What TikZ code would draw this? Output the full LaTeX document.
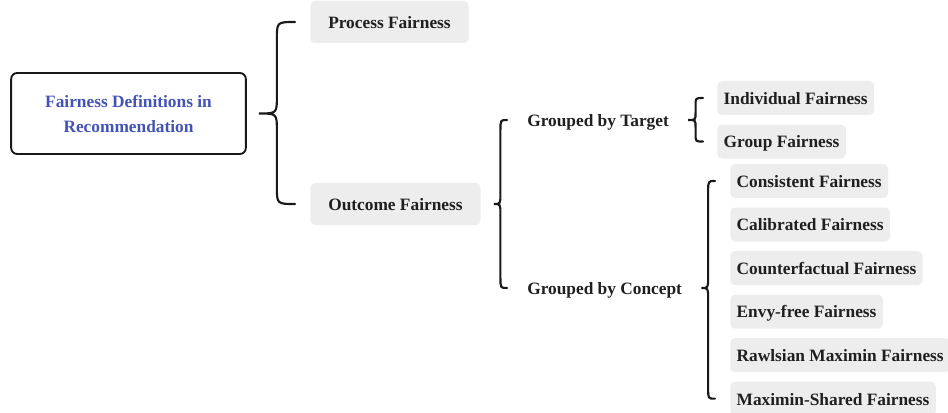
\documentclass[tikz,border=0pt]{standalone}
\usepackage{fontspec}
\setmainfont{Liberation Serif}
\usepackage{tikz}
\usetikzlibrary{positioning,calc}
\definecolor{boxgray}{RGB}{237,237,237}
\definecolor{titleblue}{RGB}{68,84,182}
\tikzstyle{every node} = [font=\fontsize{13}{18.75}\selectfont\bfseries, text=black!88]
\tikzstyle{root} = [draw=black!90, line width=1.4pt, rounded corners=4.5pt,
minimum width=176pt, minimum height=60.75pt, align=center, text=titleblue]
\tikzstyle{head} = [fill=boxgray, rounded corners=3.5pt, minimum height=31.5pt,
inner xsep=13.5pt, text height=11pt, text depth=1.5pt]
\tikzstyle{leaf} = [fill=boxgray, rounded corners=3.5pt, minimum height=25.5pt,
inner xsep=4.8pt, text height=11pt, text depth=1.5pt]
\tikzstyle{group} = [inner sep=0pt, text height=11pt, text depth=1.5pt]
\tikzstyle{brace} = [line width=1.6pt, line cap=round, black!90]
% curly brace: top end, bottom end, tip, bend
\newcommand{\curly}[4]{%
	\draw [brace] let \p1=(#1), \p2=(#2), \p3=(#3), \n1={(\x1+\x3)/2} in
	(\p1) .. controls (\n1,\y1) .. (\n1,{\y1-#4})
	-- (\n1,{\y3+#4}) .. controls (\n1,\y3) .. (\p3)
	.. controls (\n1,\y3) .. (\n1,{\y3-#4})
	-- (\n1,{\y2+#4}) .. controls (\n1,\y2) .. (\p2);}

\begin{document}
\begin{tikzpicture}[x=0.75pt, y=-0.75pt]
	\useasboundingbox (0,0) rectangle (948,413);
	% We start with the root and the two kinds of fairness
	\node [root] (root) at (128.5,113.5) {Fairness Definitions in\\Recommendation};
	\node [head, anchor=west] (process) at (310,22) {Process Fairness};
	\node [head, anchor=west] (outcome) at (310,204) {Outcome Fairness};
	% the two groupings of outcome fairness
	\node [group, anchor=west] (target) at (527,120) {Grouped by Target};
	\node [group, anchor=west] (concept) at (527,288) {Grouped by Concept};
	% grouped by target
	\node [leaf, anchor=west] (indiv) at (717,98) {Individual Fairness};
	\node [leaf, below=6.75pt of indiv.south west, anchor=north west] (grp) {Group Fairness};
	% grouped by concept, stacked one below the other
	\node [leaf, anchor=west] (consist) at (730,181) {Consistent Fairness};
	\node [leaf, below=6.75pt of consist.south west, anchor=north west] (calib) {Calibrated Fairness};
	\node [leaf, below=6.75pt of calib.south west, anchor=north west] (counter) {Counterfactual Fairness};
	\node [leaf, below=6.75pt of counter.south west, anchor=north west] (envy) {Envy-free Fairness};
	\node [leaf, below=6.75pt of envy.south west, anchor=north west] (rawls) {Rawlsian Maximin Fairness};
	\node [leaf, below=6.75pt of rawls.south west, anchor=north west] (maxshare) {Maximin-Shared Fairness};
	
	% Ends and tips of the braces
	\coordinate (rtop) at ($(process.west)+(-15,0)$);
	\coordinate (rbot) at ($(outcome.west)+(-15,0)$);
	\coordinate (rtip) at ($(root.east)+(12,0)$);
	\coordinate (otop) at ($(target.west)+(-20,0)$);
	\coordinate (obot) at ($(concept.west)+(-20,0)$);
	\coordinate (otip) at ($(outcome.east)+(13,0)$);
	\coordinate (ttop) at ($(indiv.west)+(-14,0)$);
	\coordinate (tbot) at ($(grp.west)+(-14,0)$);
	\coordinate (ttip) at ($(target.east)+(19,0)$);
	\coordinate (ctop) at ($(consist.west)+(-15,0)$);
	\coordinate (cbot) at ($(maxshare.west)+(-15,0)$);
	\coordinate (ctip) at ($(concept.east)+(19,0)$);
	\curly{rtop}{rbot}{rtip}{13pt}
	\curly{otop}{obot}{otip}{8pt}
	\curly{ttop}{tbot}{ttip}{5.5pt}
	\curly{ctop}{cbot}{ctip}{8pt}
\end{tikzpicture}
\end{document}
